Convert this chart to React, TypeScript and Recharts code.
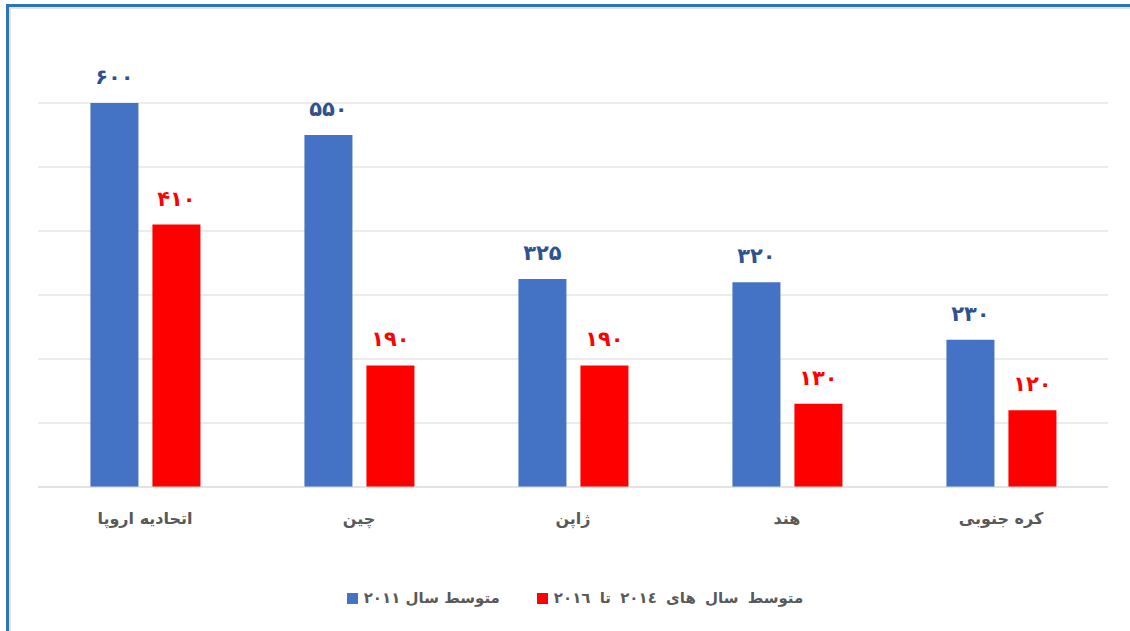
import { Bar, BarChart, CartesianGrid, LabelList, Legend, XAxis, YAxis } from "recharts";

const countries = ["اتحادیه اروپا", "چین", "ژاپن", "هند", "کره جنوبی"];
const avg2011 = [600, 550, 325, 320, 230];
const avg2014to2016 = [410, 190, 190, 130, 120];
const yTicks = [0, 100, 200, 300, 400, 500, 600];

const SERIES_2011 = "متوسط سال ۲۰۱۱";
const SERIES_2016 = "متوسط سال های ۲۰۱٤ تا ۲۰۱٦";

const BLUE = "#4472C4";
const RED = "#FF0000";
const FONT = "'DejaVu Sans', Tahoma, sans-serif";

const data = countries.map((name, i) => ({
  name,
  a: avg2011[i],
  b: avg2014to2016[i],
}));

const PERSIAN = "۰۱۲۳۴۵۶۷۸۹";
const toPersian = (v: unknown) =>
  String(v).replace(/[0-9]/g, (d) => PERSIAN[Number(d)]);

function CategoryTick(props: any) {
  const { x, y, payload } = props;
  return (
    <text
      x={x}
      y={y + 23}
      textAnchor="middle"
      dominantBaseline="central"
      fontSize={16}
      fontWeight={700}
      fill="#595959"
      fontFamily={FONT}
    >
      {payload.value}
    </text>
  );
}

function LegendContent() {
  const items = [
    { label: SERIES_2011, color: BLUE },
    { label: SERIES_2016, color: RED },
  ];
  return (
    <div
      style={{
        display: "flex",
        justifyContent: "center",
        gap: 37,
        paddingLeft: 20,
        fontFamily: FONT,
        fontSize: 15,
        fontWeight: 700,
        color: "#595959",
      }}
    >
      {items.map((it) => (
        <div key={it.label} style={{ display: "flex", alignItems: "center", gap: 6 }}>
          <span style={{ width: 11, height: 11, background: it.color, display: "inline-block" }} />
          <span dir="rtl" style={{ wordSpacing: it.color === RED ? 4 : 0 }}>
            {it.label}
          </span>
        </div>
      ))}
    </div>
  );
}

export default function App() {
  return (
    <div
      style={{
        position: "absolute",
        left: 0,
        top: 0,
        width: 1130,
        height: 631,
        background: "#ffffff",
        overflow: "hidden",
      }}
    >
      {/* frame: blue top/left edge with a faint grey inner line */}
      <div
        style={{
          position: "absolute",
          left: 6,
          top: 4,
          width: 1130,
          height: 631,
          borderLeft: "3px solid #2E75B6",
          borderTop: "3px solid #2E75B6",
          boxSizing: "border-box",
        }}
      >
        <div
          style={{
            position: "absolute",
            left: 0,
            top: 0,
            right: 0,
            bottom: 0,
            borderLeft: "2px solid #E3E3E3",
            borderTop: "2px solid #E3E3E3",
          }}
        />
      </div>
      <div style={{ position: "absolute", left: 0, top: 0 }}>
        <BarChart
          width={1130}
          height={631}
          data={data}
          margin={{ top: 103, right: 22, bottom: 92, left: 38 }}
          barCategoryGap="24.5%"
          barGap={14}
        >
          <CartesianGrid vertical={false} stroke="#D9D9D9" />
          <YAxis hide domain={[0, 600]} ticks={yTicks} />
          <XAxis
            dataKey="name"
            axisLine={{ stroke: "#D9D9D9" }}
            tickLine={false}
            tick={<CategoryTick />}
            height={30}
            interval={0}
          />
          <Legend
            content={<LegendContent />}
            wrapperStyle={{ position: "absolute", top: 589, left: 0, width: 1130, height: 22 }}
          />
          <Bar dataKey="a" name={SERIES_2011} fill={BLUE} isAnimationActive={false}>
            <LabelList
              dataKey="a"
              position="top"
              offset={19}
              formatter={toPersian}
              fill="#2F528F"
              fontSize={21}
              fontWeight={700}
              fontFamily={FONT}
            />
          </Bar>
          <Bar dataKey="b" name={SERIES_2016} fill={RED} isAnimationActive={false}>
            <LabelList
              dataKey="b"
              position="top"
              offset={19}
              formatter={toPersian}
              fill={RED}
              fontSize={21}
              fontWeight={700}
              fontFamily={FONT}
            />
          </Bar>
        </BarChart>
      </div>
    </div>
  );
}
